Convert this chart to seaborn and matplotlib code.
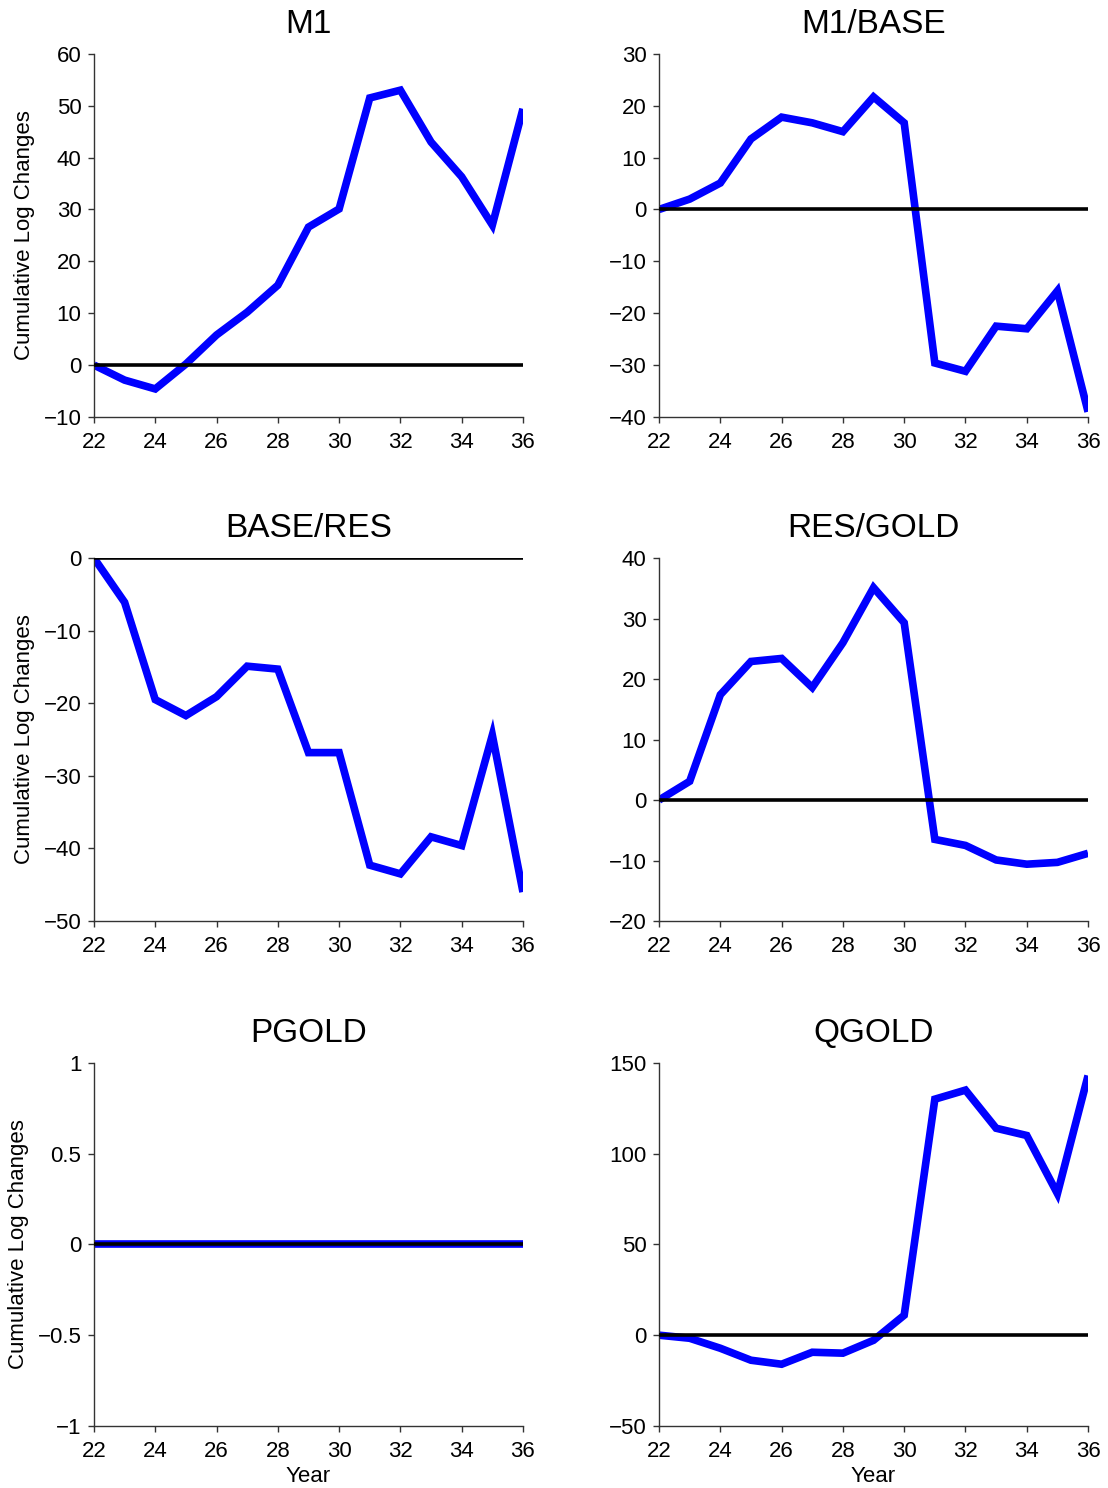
import matplotlib
matplotlib.use("Agg")
import matplotlib.pyplot as plt
import seaborn as sns
from matplotlib.ticker import FuncFormatter

# === Données ===
years = list(range(22, 37))

m1 = [0, -2.9, -4.6, 0.2, 5.8, 10.2, 15.4, 26.6, 30.1, 51.5, 53.0, 43.0, 36.3, 27.0, 49.4]
m1_base = [0, 2.0, 5.1, 13.6, 17.8, 16.7, 15.0, 21.7, 16.7, -29.6, -31.2, -22.5, -23.0, -15.7, -39.0]
base_res = [0, -6.1, -19.5, -21.7, -19.1, -14.9, -15.3, -26.8, -26.8, -42.3, -43.5, -38.4, -39.6, -24.4, -46.0]
res_gold = [0, 3.1, 17.4, 22.9, 23.4, 18.6, 26.0, 35.1, 29.3, -6.5, -7.5, -9.9, -10.6, -10.3, -8.8]
pgold = [0] * 15
qgold = [0, -1.7, -7.2, -13.8, -16.0, -9.4, -9.9, -2.8, 11.0, 130.0, 135.0, 114.0, 110.0, 78.0, 143.0]

titles = ["M1", "M1/BASE", "BASE/RES", "RES/GOLD", "PGOLD", "QGOLD"]
series = [m1, m1_base, base_res, res_gold, pgold, qgold]
y_ticks = [
    [-10, 0, 10, 20, 30, 40, 50, 60],
    [-40, -30, -20, -10, 0, 10, 20, 30],
    [-50, -40, -30, -20, -10, 0],
    [-20, -10, 0, 10, 20, 30, 40],
    [-1, -0.5, 0, 0.5, 1],
    [-50, 0, 50, 100, 150],
]
x_ticks = [22, 24, 26, 28, 30, 32, 34, 36]

# === Style ===
sns.set_style("ticks")
plt.rcParams["font.family"] = ["Liberation Sans", "DejaVu Sans"]
plt.rcParams["text.color"] = "black"
plt.rcParams["axes.labelcolor"] = "black"
plt.rcParams["axes.edgecolor"] = "#333333"
plt.rcParams["xtick.color"] = "#333333"
plt.rcParams["ytick.color"] = "#333333"
plt.rcParams["xtick.labelcolor"] = "black"
plt.rcParams["ytick.labelcolor"] = "black"

LINE_COLOR = "#0000FF"
ZERO_COLOR = "black"

fig = plt.figure(figsize=(11.08, 14.88), dpi=100)

# positions des axes (fractions de la figure)
lefts = [0.0848, 0.5948]
bottoms = [0.7198, 0.3810, 0.0417]
width, height = 0.3872, 0.2440

fmt = FuncFormatter(lambda v, _: f"{v:g}".replace("-", "\u2212"))

for i, (title, values, yt) in enumerate(zip(titles, series, y_ticks)):
    row, col = divmod(i, 2)
    ax = fig.add_axes([lefts[col], bottoms[row], width, height])

    sns.lineplot(x=years, y=values, ax=ax, color=LINE_COLOR, linewidth=5.5,
                 solid_capstyle="butt", solid_joinstyle="miter")
    ax.axhline(0, color=ZERO_COLOR, linewidth=2.6, zorder=3)

    ax.set_xlim(22, 36)
    ax.set_ylim(yt[0], yt[-1])
    ax.set_xticks(x_ticks)
    ax.set_yticks(yt)
    ax.yaxis.set_major_formatter(fmt)
    ax.tick_params(axis="both", labelsize=16, length=4, width=1)
    ax.tick_params(axis="x", pad=6.5)
    ax.tick_params(axis="y", pad=5)

    sns.despine(ax=ax)
    for side in ("left", "bottom"):
        ax.spines[side].set_linewidth(1.0)

    ax.set_title(title, fontsize=24, pad=15)
    if col == 0:
        ax.set_ylabel("Cumulative Log Changes", fontsize=16, labelpad=6)
    else:
        ax.set_ylabel("")
    if row == 2:
        ax.set_xlabel("Year", fontsize=16, labelpad=3)
    else:
        ax.set_xlabel("")

fig.savefig("out.png", dpi=100)
